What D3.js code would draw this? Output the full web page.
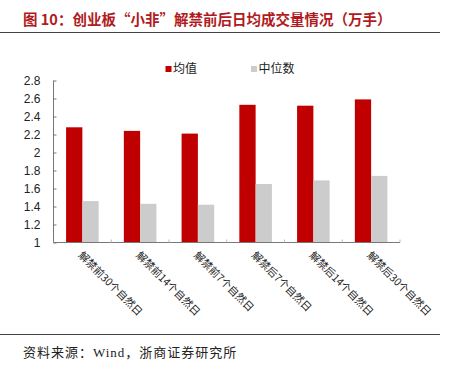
<!DOCTYPE html>
<html lang="zh">
<head>
<meta charset="UTF-8">
<title>创业板小非解禁前后日均成交量</title>
<script src="https://cdn.jsdelivr.net/npm/d3@7"></script>
<style>
    body { margin: 0; background: #fff; }
    svg { display: block; font-family: Arial, "Liberation Sans", "Noto Sans CJK SC", sans-serif; }
    .axis text { font-size: 12px; fill: #222; }
</style>
</head>
<body>
<script>
    var categories = ["解禁前30个自然日", "解禁前14个自然日", "解禁前7个自然日",
                      "解禁后7个自然日", "解禁后14个自然日", "解禁后30个自然日"];
    var meanValues = [2.28, 2.24, 2.21, 2.53, 2.52, 2.59];
    var medianValues = [1.46, 1.43, 1.42, 1.65, 1.69, 1.74];
    var seriesNames = ["均值", "中位数"];
    var seriesColors = ["#C00000", "#CCCCCC"];
    var yTicks = [1, 1.2, 1.4, 1.6, 1.8, 2, 2.2, 2.4, 2.6, 2.8];

    var w = 449, h = 373;
    // plot area edges (window.top is reserved, so prefixed names)
    var plotLeft = 53.5, plotRight = 400, plotTop = 80.5, plotBottom = 242.5;

    var svg = d3.select("body").append("svg")
        .attr("width", w)
        .attr("height", h);

    // title + rules
    svg.append("text")
        .attr("x", 23).attr("y", 25)
        .attr("font-size", "14.5px")
        .attr("font-weight", "bold")
        .attr("fill", "#B01B22")
        .attr("font-family", "'Noto Sans CJK SC', sans-serif")
        .text("图 10：创业板“小非”解禁前后日均成交量情况（万手）");
    svg.append("line")
        .attr("x1", 0).attr("x2", 440).attr("y1", 32.5).attr("y2", 32.5)
        .attr("stroke", "#444").attr("stroke-width", 1);
    svg.append("line")
        .attr("x1", 0).attr("x2", 440).attr("y1", 334.5).attr("y2", 334.5)
        .attr("stroke", "#444").attr("stroke-width", 1);
    svg.append("text")
        .attr("x", 23).attr("y", 357)
        .attr("font-size", "13px")
        .attr("letter-spacing", "1px")
        .attr("fill", "#222")
        .attr("font-family", "'Liberation Serif', 'Noto Sans CJK SC', serif")
        .text("资料来源：Wind，浙商证券研究所");

    var data = categories.map(function (c, i) {
        return { cat: c, values: [meanValues[i], medianValues[i]] };
    });

    var x0 = d3.scaleBand()
        .domain(categories)
        .range([plotLeft, plotRight])
        .paddingInner(0.436)
        .paddingOuter(0.218);

    var x1 = d3.scaleBand()
        .domain([0, 1])
        .range([0, x0.bandwidth()]);

    var y = d3.scaleLinear()
        .domain([1, 2.8])
        .range([plotBottom, plotTop]);

    // bars
    var groups = svg.selectAll("g.grp")
        .data(data)
        .enter().append("g")
        .attr("class", "grp")
        .attr("transform", function (d) { return "translate(" + x0(d.cat) + ",0)"; });

    groups.selectAll("rect")
        .data(function (d) { return d.values; })
        .enter().append("rect")
        .attr("x", function (d, i) { return x1(i); })
        .attr("width", x1.bandwidth())
        .attr("y", function (d) { return y(d); })
        .attr("height", function (d) { return plotBottom - y(d); })
        .attr("fill", function (d, i) { return seriesColors[i]; });

    // y axis
    var yAxis = d3.axisLeft(y)
        .tickValues(yTicks)
        .tickSize(-3)
        .tickPadding(13)
        .tickFormat(function (d) { return d3.format("~g")(d); });

    var gy = svg.append("g")
        .attr("class", "axis")
        .attr("transform", "translate(" + plotLeft + ",0)")
        .call(yAxis);
    gy.select(".domain").attr("stroke", "#777").attr("d", "M0," + plotTop + "V" + plotBottom);
    gy.selectAll(".tick line").attr("stroke", "#777");

    // x axis
    var step = x0.step();
    var xAxis = d3.axisBottom(x0).tickSize(0).tickFormat("");
    var gx = svg.append("g")
        .attr("class", "axis")
        .attr("transform", "translate(0," + plotBottom + ")")
        .call(xAxis);
    gx.select(".domain").attr("stroke", "#777").attr("d", "M" + plotLeft + ",0H" + plotRight);

    svg.selectAll("line.xtick")
        .data(d3.range(1, categories.length + 1))
        .enter().append("line")
        .attr("class", "xtick")
        .attr("x1", function (i) { return plotLeft + i * step; })
        .attr("x2", function (i) { return plotLeft + i * step; })
        .attr("y1", plotBottom)
        .attr("y2", plotBottom - 3)
        .attr("stroke", "#bbb");

    svg.selectAll("text.xlab")
        .data(categories)
        .enter().append("text")
        .attr("class", "xlab")
        .attr("font-size", "10.5px")
        .attr("fill", "#222")
        .attr("font-family", "'Noto Sans CJK SC', sans-serif")
        .attr("transform", function (d) {
            return "translate(" + (x0(d) + x0.bandwidth() / 2 - 2) + "," + (plotBottom + 11) + ") rotate(45)";
        })
        .attr("dy", "0.35em")
        .text(function (d) { return d; });

    // legend
    var legend = svg.selectAll("g.leg")
        .data(seriesNames)
        .enter().append("g")
        .attr("class", "leg")
        .attr("transform", function (d, i) { return "translate(" + [165.5, 251][i] + ",66)"; });
    legend.append("rect")
        .attr("width", 6).attr("height", 6)
        .attr("fill", function (d, i) { return seriesColors[i]; });
    legend.append("text")
        .attr("x", 7.5).attr("y", 3)
        .attr("dy", "0.36em")
        .attr("font-size", "12px")
        .attr("fill", "#222")
        .attr("font-family", "'Noto Sans CJK SC', sans-serif")
        .text(function (d) { return d; });
</script>
</body>
</html>
